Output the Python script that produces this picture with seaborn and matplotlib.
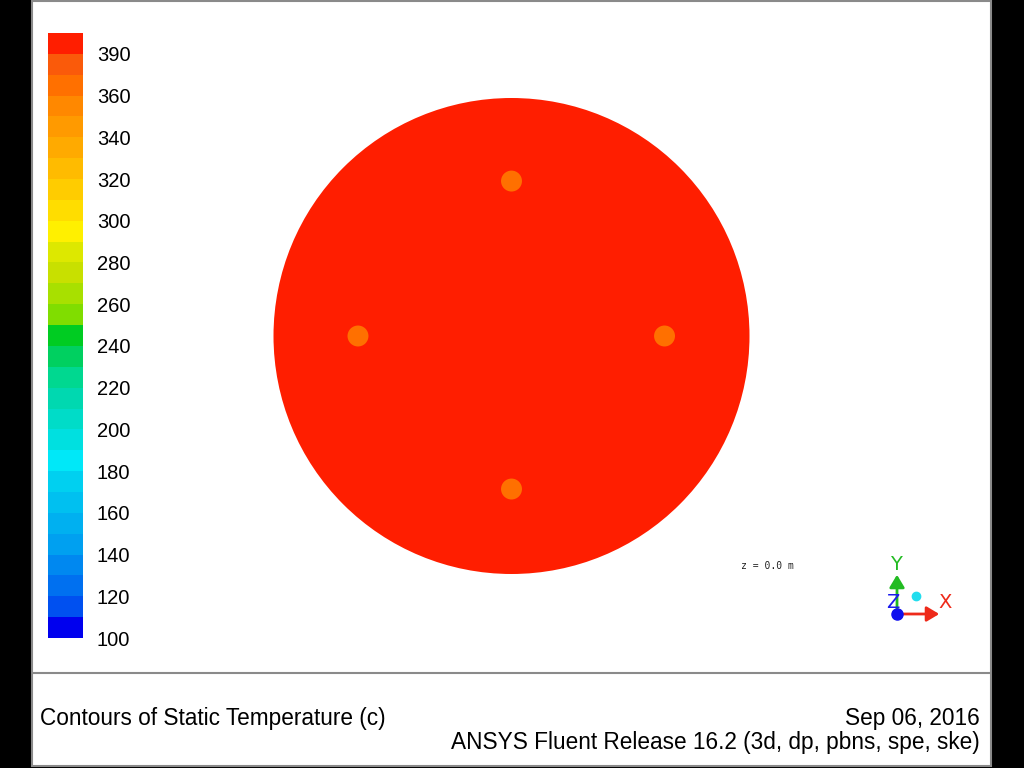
import numpy as np
import matplotlib
matplotlib.use('Agg')
import matplotlib.pyplot as plt
from matplotlib.colors import ListedColormap
from matplotlib.patches import Circle, Rectangle, FancyArrowPatch
import seaborn as sns

# colour bands of the legend, bottom (coldest) to top (hottest)
band_colors = ['#0000ee', '#0050f0', '#0070f0', '#0088f0', '#00a0f0', '#00b0f0',
               '#00c0f0', '#00d0f0', '#00e8f8', '#00e0e0', '#00dcc8', '#00d8b0',
               '#00d890', '#00d060', '#00cc22', '#80dd00', '#a8e000', '#c8e000',
               '#dde800', '#fff000', '#ffdd00', '#ffcc00', '#ffbb00', '#ffaa00',
               '#ff9a00', '#ff8800', '#ff7000', '#fa5a0a', '#ff1e00']
t_min = 100.0
t_label_top = 390.0
n_bands = len(band_colors)
tick_labels = ['100', '120', '140', '160', '180', '200', '220', '240',
               '260', '280', '300', '320', '340', '360', '390']

# static temperature on the z = 0 plane
disc_temp = 393.0
disc_radius = 1.0
spot_x = [0.0, -0.645, 0.643, 0.0]
spot_y = [0.651, 0.0, 0.0, -0.643]
spot_r = [0.044, 0.044, 0.044, 0.044]
spot_temp = [375.0, 375.0, 375.0, 375.0]

title_left = 'Contours of Static Temperature (c)'
date_text = 'Sep 06, 2016'
release_text = 'ANSYS Fluent Release 16.2 (3d, dp, pbns, spe, ske)'

sns.set_theme(style='white')
plt.rcParams['font.family'] = ['Liberation Sans', 'DejaVu Sans']

dT = (t_label_top - t_min) / (n_bands - 1)
edges = t_min + dT * np.arange(n_bands + 1)
cmap = ListedColormap(band_colors)


def temp_color(t):
    k = int(np.clip((t - t_min) // dT, 0, n_bands - 1))
    return band_colors[k]


W, H = 1024, 768
fig = plt.figure(figsize=(W / 100, H / 100), dpi=100, facecolor='black')

# panel / frame in pixel coordinates
ov = fig.add_axes([0, 0, 1, 1])
ov.set_xlim(0, W)
ov.set_ylim(H, 0)
ov.axis('off')
ov.add_patch(Rectangle((32, 1), 959, 765, facecolor='white', edgecolor='#8a8a8a', lw=1.5))
ov.plot([32, 991], [673, 673], color='#8a8a8a', lw=1.5)

# scene: disc with hot spots
cx, cy, rpx = 511.5, 336.0, 238.0
sc = fig.add_axes([0, 0, 1, 1])
sc.set_xlim(-cx / rpx, (W - cx) / rpx)
sc.set_ylim(-(H - cy) / rpx, cy / rpx)
sc.axis('off')
sc.patch.set_alpha(0)
sc.add_patch(Circle((0, 0), disc_radius, facecolor=temp_color(disc_temp), edgecolor='none'))
for x, y, r, t in zip(spot_x, spot_y, spot_r, spot_temp):
    sc.add_patch(Circle((x, y), r, facecolor=temp_color(t), edgecolor='none'))

# colour legend
cax = fig.add_axes([48 / W, 1 - 638 / H, 35 / W, (638 - 33) / H])
mids = (edges[:-1] + edges[1:]) / 2
sns.heatmap(mids[::-1].reshape(-1, 1), cmap=cmap, vmin=edges[0], vmax=edges[-1],
            cbar=False, ax=cax, xticklabels=False, yticklabels=False)
cax.yaxis.tick_right()
cax.set_yticks([n_bands - k for k in range(0, n_bands, 2)])
cax.set_yticklabels(tick_labels, fontsize=14.5, color='black')
cax.tick_params(axis='y', length=0, pad=10)
for lab in cax.get_yticklabels():
    lab.set_verticalalignment('center_baseline')

# footer
ov.text(40, 719, title_left, fontsize=16.3, ha='left', va='center', color='black')
ov.text(980, 719, date_text, fontsize=16.3, ha='right', va='center', color='black')
ov.text(980, 743, release_text, fontsize=16.3, ha='right', va='center', color='black')

# plane label and axis triad
ov.text(741, 566, 'z = 0.0 m', fontsize=7, family='DejaVu Sans Mono', ha='left', va='center', color='#222222')
ox, oy = 897, 614
ov.add_patch(FancyArrowPatch((ox, oy), (ox, 572), arrowstyle='-|>,head_length=5,head_width=3',
                             color='#22bb22', lw=2, mutation_scale=1.5))
ov.add_patch(FancyArrowPatch((ox, oy), (942, oy), arrowstyle='-|>,head_length=5,head_width=3',
                             color='#ee2a1a', lw=2, mutation_scale=1.5))
ov.text(896, 564, 'Y', fontsize=14, color='#22bb22', ha='center', va='center', family='DejaVu Sans')
ov.text(945, 603, 'X', fontsize=14, color='#ee2a1a', ha='center', va='center', family='DejaVu Sans')
ov.text(893, 603, 'Z', fontsize=14, color='#1a1aee', ha='center', va='center', family='DejaVu Sans')
ov.plot([ox], [oy], 'o', color='#1010ee', ms=8)
ov.plot([916], [596], 'o', color='#22ddee', ms=6)

fig.savefig('out.png', dpi=100, facecolor='black')
